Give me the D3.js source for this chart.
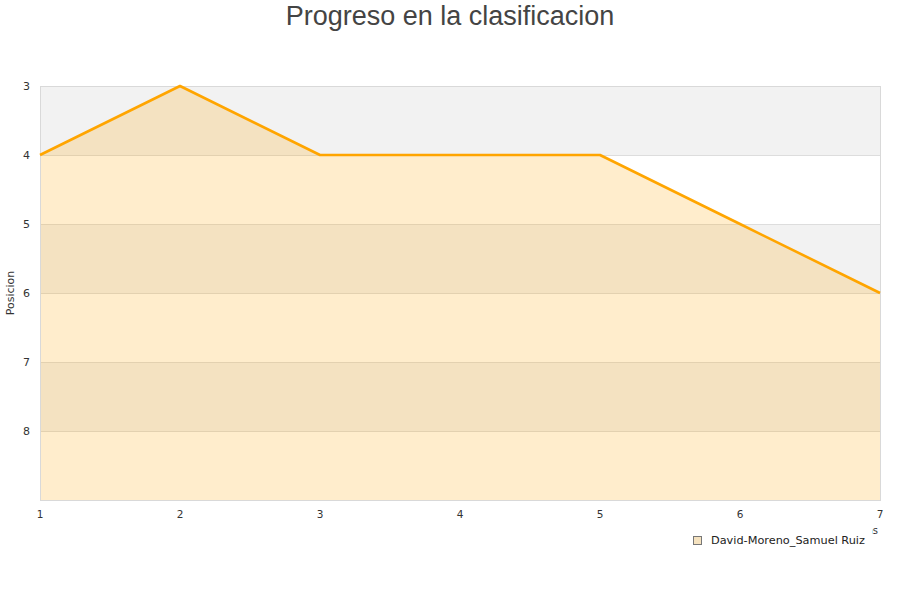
<!DOCTYPE html>
<html><head><meta charset="utf-8">
<script src="https://cdn.jsdelivr.net/npm/d3@7"></script>
<style>body{margin:0;background:#fff}svg{display:block}</style>
</head><body><svg id="c" width="900" height="600"></svg>
<script>
const jornadas = [1, 2, 3, 4, 5, 6, 7];
const posiciones = [4, 3, 4, 4, 4, 5, 6];
const yTicks = [3, 4, 5, 6, 7, 8];
const seriesName = "David-Moreno_Samuel Ruiz";
const title = "Progreso en la clasificacion";

const svg = d3.select("#c");
const F = "DejaVu Sans, sans-serif";
const m = {l: 40, r: 20, t: 86, b: 100};
const W = 900, H = 600;
const x = d3.scaleLinear().domain([1, 7]).range([m.l, W - m.r]);
const y = d3.scaleLinear().domain([3, 9]).range([m.t, H - m.b]);

// bands
const bands = d3.range(3, 9);
svg.selectAll("rect.band").data(bands).join("rect")
  .attr("x", x(1)).attr("width", x(7) - x(1))
  .attr("y", d => y(d)).attr("height", d => y(d + 1) - y(d))
  .attr("fill", (d, i) => i % 2 === 0 ? "#f2f2f2" : "#ffffff");

// gridlines
svg.selectAll("line.grid").data(d3.range(4, 9)).join("line")
  .attr("x1", x(1)).attr("x2", x(7)).attr("y1", d => y(d)).attr("y2", d => y(d))
  .attr("stroke", "#dddddd").attr("stroke-width", 1).attr("shape-rendering", "crispEdges");

// area
const pts = jornadas.map((j, i) => [j, posiciones[i]]);
svg.append("path").datum(pts)
  .attr("d", d3.area().x(d => x(d[0])).y0(y(9)).y1(d => y(d[1])))
  .attr("fill", "#ffa500").attr("fill-opacity", 0.2);

// border
svg.append("rect").attr("x", x(1)).attr("y", y(3)).attr("width", x(7) - x(1)).attr("height", y(9) - y(3))
  .attr("fill", "none").attr("stroke", "#d9d9d9").attr("shape-rendering", "crispEdges");

// line
svg.append("path").datum(pts)
  .attr("d", d3.line().x(d => x(d[0])).y(d => y(d[1])))
  .attr("fill", "none").attr("stroke", "#ffa500").attr("stroke-width", 2.6)
  .attr("stroke-linejoin", "round");

// y ticks
svg.selectAll("text.yt").data(yTicks).join("text")
  .attr("x", 30).attr("y", d => y(d) + 4).attr("text-anchor", "end")
  .style("font-family", F).attr("font-size", 11).attr("fill", "#333").text(d => d);

// x ticks
svg.selectAll("text.xt").data(jornadas).join("text")
  .attr("x", d => x(d)).attr("y", 518).attr("text-anchor", "middle")
  .style("font-family", F).attr("font-size", 10.5).attr("fill", "#333").text(d => d);

// y label
svg.append("text").attr("transform", "translate(14,293) rotate(-90)")
  .attr("text-anchor", "middle").style("font-family", F).attr("font-size", 11).attr("fill", "#333").text("Posicion");

// x label (mostly hidden behind legend)
svg.append("text").attr("x", 878).attr("y", 534).attr("text-anchor", "end")
  .style("font-family", F).attr("font-size", 10).attr("fill", "#333").text("Jornadas");
svg.append("rect").attr("x", 680).attr("y", 526).attr("width", 192).attr("height", 28).attr("fill", "#fff");

// legend
svg.append("rect").attr("x", 693.5).attr("y", 536.5).attr("width", 8).attr("height", 8)
  .attr("fill", "#f5e2bf").attr("stroke", "#777").attr("stroke-width", 1);
svg.append("text").attr("x", 711).attr("y", 544).style("font-family", F)
  .attr("font-size", 11.3).attr("fill", "#222").text(seriesName);

// title
svg.append("text").attr("x", 450).attr("y", 25).attr("text-anchor", "middle")
  .style("font-family", "Liberation Sans, Arial, sans-serif")
  .attr("font-size", 27).attr("fill", "#444").text(title);
</script></body></html>
